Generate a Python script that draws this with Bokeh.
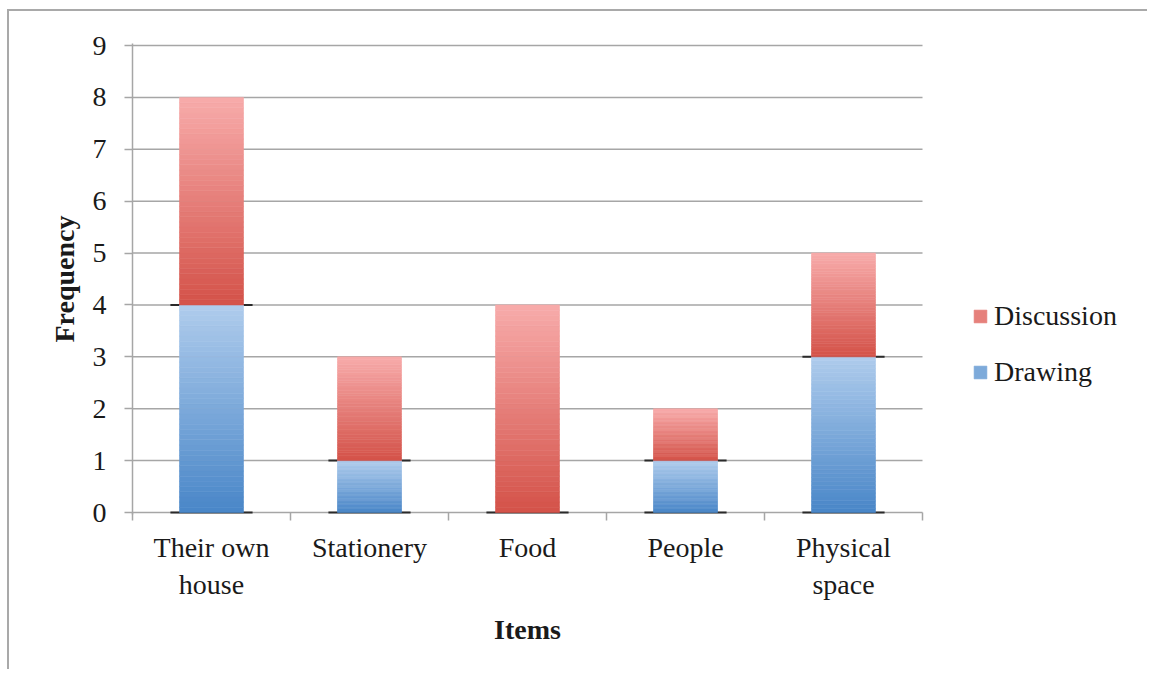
from bokeh.plotting import figure
from bokeh.models import (Range1d, FixedTicker, LinearAxis, Legend, LegendItem,
                          ColumnDataSource)
from bokeh.embed import file_html
from bokeh.resources import INLINE

categories = ["Their own\nhouse", "Stationery", "Food", "People", "Physical\nspace"]
drawing = [4, 1, 0, 1, 3]
discussion = [4, 2, 4, 1, 2]
y_ticks = [0, 1, 2, 3, 4, 5, 6, 7, 8, 9]
x_title = "Items"
y_title = "Frequency"

FONT = "Liberation Serif"
GRAY = "#a6a6a6"
TXT = "#1a1a1a"

def hex2rgb(h):
    h = h.lstrip("#")
    return tuple(int(h[i:i + 2], 16) for i in (0, 2, 4))

def lerp(c0, c1, t):
    a, b = hex2rgb(c0), hex2rgb(c1)
    return "#%02x%02x%02x" % tuple(int(round(a[i] + (b[i] - a[i]) * t)) for i in range(3))

RED_DARK, RED_LIGHT = "#d4534a", "#f7aaa9"
BLUE_DARK, BLUE_LIGHT = "#4a87c8", "#aecbec"
N = 40
HALF = 0.2025
NCAT = len(categories)

def strips(bottoms, heights, dark, light):
    d = dict(left=[], right=[], bottom=[], top=[], color=[])
    for i, (b, h) in enumerate(zip(bottoms, heights)):
        if h <= 0:
            continue
        for k in range(N):
            d["left"].append(i + 0.5 - HALF)
            d["right"].append(i + 0.5 + HALF)
            d["bottom"].append(b + h * k / N)
            d["top"].append(b + h * (k + 1) / N)
            d["color"].append(lerp(dark, light, k / (N - 1)))
    return ColumnDataSource(d)

# layout geometry (pixels)
W, H = 1140, 660
BL, BR, BT, BB = 123, 10, 32, 157
PLOT_W = 790                 # width of the category area in px
FRAME_W = W - BL - BR
x_end = NCAT * FRAME_W / PLOT_W
ypad = 2 * 9 / 467

p = figure(width=W, height=H, output_backend="svg", toolbar_location=None,
           x_range=Range1d(0, x_end), y_range=Range1d(-ypad, 9 + ypad),
           min_border_left=BL, min_border_right=BR, min_border_top=BT,
           min_border_bottom=BB)
p.styles = {"border-top": "2px solid #a9a9a9", "border-left": "2px solid #a9a9a9",
            "margin-left": "7px", "margin-top": "9px"}
p.outline_line_color = None
p.background_fill_color = "white"
p.border_fill_color = "white"
p.xgrid.visible = False
p.ygrid.visible = False

# gridlines over the category area only
p.segment(x0=[0] * len(y_ticks), x1=[NCAT] * len(y_ticks), y0=y_ticks, y1=y_ticks,
          line_color=GRAY, line_width=1.5)

# y axis
ya = p.yaxis[0]
ya.ticker = FixedTicker(ticks=y_ticks)
ya.axis_line_color = GRAY
ya.axis_line_width = 1.5
ya.major_tick_line_color = GRAY
ya.major_tick_line_width = 1.5
ya.major_tick_out = 8
ya.major_tick_in = 0
ya.minor_tick_line_color = None
ya.major_label_text_font = FONT
ya.major_label_text_font_size = "28px"
ya.major_label_text_color = TXT
ya.major_label_standoff = 18
ya.axis_label = y_title
ya.axis_label_text_font = FONT
ya.axis_label_text_font_size = "28px"
ya.axis_label_text_font_style = "bold"
ya.axis_label_text_color = TXT
ya.axis_label_standoff = 10

# x axis with boundary ticks (no labels)
bounds = list(range(NCAT + 1))
xa = p.xaxis[0]
xa.ticker = FixedTicker(ticks=bounds)
xa.major_label_overrides = {b: "" for b in bounds}
xa.axis_line_color = None
xa.major_tick_line_color = GRAY
xa.major_tick_line_width = 1.5
xa.major_tick_out = 6
xa.major_tick_in = 2
xa.minor_tick_line_color = None
xa.major_label_text_font_size = "1px"
xa.major_label_standoff = 0

# x axis with category labels
centers = [i + 0.5 for i in range(NCAT)]
xl = LinearAxis(ticker=FixedTicker(ticks=centers),
                major_label_overrides={c: lab for c, lab in zip(centers, categories)})
xl.axis_line_color = None
xl.major_tick_line_color = None
xl.minor_tick_line_color = None
xl.major_label_text_font = FONT
xl.major_label_text_font_size = "28px"
xl.major_label_text_color = TXT
xl.major_label_standoff = 5
p.add_layout(xl, "below")

# axis title, centered on the category area
xt = LinearAxis(ticker=FixedTicker(ticks=[NCAT / 2]),
                major_label_overrides={NCAT / 2: x_title})
xt.axis_line_color = None
xt.major_tick_line_color = None
xt.minor_tick_line_color = None
xt.major_label_text_font = FONT
xt.major_label_text_font_size = "28px"
xt.major_label_text_font_style = "bold"
xt.major_label_text_color = TXT
xt.major_label_standoff = 5
p.add_layout(xt, "below")

# dark boundary marks
mark_x0, mark_x1, mark_y = [], [], []
for i in range(NCAT):
    mark_x0.append(i + 0.5 - 0.26); mark_x1.append(i + 0.5 + 0.26); mark_y.append(0)
    if drawing[i] > 0:
        mark_x0.append(i + 0.5 - 0.26); mark_x1.append(i + 0.5 + 0.26); mark_y.append(drawing[i])
p.segment(x0=mark_x0, x1=mark_x1, y0=mark_y, y1=mark_y, line_color="#2a2a2a", line_width=2)

# bars
src_draw = strips([0] * NCAT, drawing, BLUE_DARK, BLUE_LIGHT)
src_disc = strips(drawing, discussion, RED_DARK, RED_LIGHT)
r_draw = p.quad(left="left", right="right", bottom="bottom", top="top", source=src_draw,
                fill_color="color", line_color="color", line_width=0.6)
r_disc = p.quad(left="left", right="right", bottom="bottom", top="top", source=src_disc,
                fill_color="color", line_color="color", line_width=0.6)

legend = Legend(items=[LegendItem(label="Discussion", renderers=[r_disc], index=N // 2),
                       LegendItem(label="Drawing", renderers=[r_draw], index=N // 2)],
                location=(840, 126))
legend.padding = 0
legend.margin = 0
legend.spacing = 24
legend.glyph_width = 16
legend.glyph_height = 16
legend.label_height = 30
legend.label_standoff = 6
legend.label_text_font = FONT
legend.label_text_font_size = "28px"
legend.label_text_color = TXT
legend.border_line_color = None
legend.background_fill_alpha = 0
p.add_layout(legend)

open("out.html", "w").write(file_html(p, INLINE))
